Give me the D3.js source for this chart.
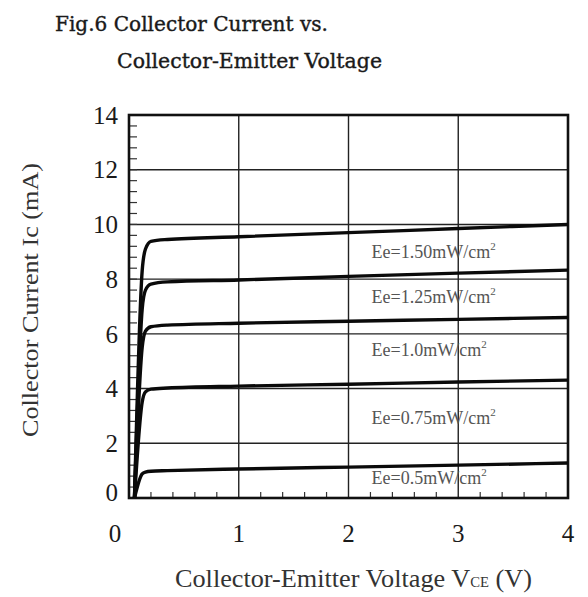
<!DOCTYPE html>
<html>
<head>
<meta charset="utf-8">
<script src="https://cdn.jsdelivr.net/npm/d3@7"></script>
<style>
  body { margin: 0; background: #fff; }
  svg { display: block; }
</style>
</head>
<body>
<svg id="canvas" width="588" height="597"></svg>
<script>
// irradiance levels (mW/cm2) and their curves
let levels = ['1.50', '1.25', '1.0', '0.75', '0.5']
let vce = [0.05, 0.12, 0.15, 0.2, 0.35, 1, 2, 3, 4]
let ic150 = [0, 8.3, 9.1, 9.38, 9.45, 9.55, 9.7, 9.85, 10.0]
let ic125 = [0, 6.9, 7.6, 7.82, 7.9, 7.97, 8.1, 8.22, 8.33]
let ic100 = [0, 5.5, 6.1, 6.26, 6.32, 6.39, 6.46, 6.53, 6.6]
let ic075 = [0, 3.5, 3.88, 3.98, 4.02, 4.09, 4.16, 4.24, 4.31]
let ic050 = [0, 0.88, 0.95, 0.98, 1.0, 1.06, 1.13, 1.2, 1.28]
let series = [ic150, ic125, ic100, ic075, ic050]
// label anchors in data units (V, mA)
let labelV = [2.21, 2.21, 2.21, 2.21, 2.21]
let labelI = [8.99, 7.35, 5.41, 2.92, 0.73]

let xTicks = [0, 1, 2, 3, 4]
let yTicks = [0, 2, 4, 6, 8, 10, 12, 14]

let canvas = d3.select('#canvas')

let x = d3.scaleLinear().domain([0, 4]).range([129, 568])
let y = d3.scaleLinear().domain([0, 14]).range([498, 115])

// title
canvas.append('text')
    .text('Fig.6 Collector Current vs.')
    .attr('x', 55).attr('y', 31)
    .attr('textLength', 273).attr('lengthAdjust', 'spacingAndGlyphs')
    .style('font-family', '"DejaVu Serif", serif').style('font-size', '21px')
    .style('fill', '#1a1a1a').style('stroke', '#1a1a1a').style('stroke-width', 0.4)
canvas.append('text')
    .text('Collector-Emitter Voltage')
    .attr('x', 117).attr('y', 68)
    .attr('textLength', 265).attr('lengthAdjust', 'spacingAndGlyphs')
    .style('font-family', '"DejaVu Serif", serif').style('font-size', '21px')
    .style('fill', '#1a1a1a').style('stroke', '#1a1a1a').style('stroke-width', 0.4)

// grid
canvas.append('g').selectAll('line')
    .data(yTicks.filter(d => d > 0 && d < 14))
    .enter().append('line')
    .attr('x1', x(0)).attr('x2', x(4))
    .attr('y1', d => y(d)).attr('y2', d => y(d))
    .attr('stroke', '#222').attr('stroke-width', 1.4)
canvas.append('g').selectAll('line')
    .data(xTicks.filter(d => d > 0 && d < 4))
    .enter().append('line')
    .attr('y1', y(0)).attr('y2', y(14))
    .attr('x1', d => x(d)).attr('x2', d => x(d))
    .attr('stroke', '#222').attr('stroke-width', 1.4)

// minor inner ticks
let yMinor = d3.range(0.4, 14, 0.4)
canvas.append('g').selectAll('line')
    .data(yMinor)
    .enter().append('line')
    .attr('x1', x(0)).attr('x2', x(0) + 8)
    .attr('y1', d => y(d)).attr('y2', d => y(d))
    .attr('stroke', '#333').attr('stroke-width', 1.2)
let xMinor = d3.range(0.2, 4, 0.2).filter(d => Math.abs(d - Math.round(d)) > 0.01)
canvas.append('g').selectAll('line')
    .data(xMinor)
    .enter().append('line')
    .attr('y1', y(0)).attr('y2', y(0) - 6)
    .attr('x1', d => x(d)).attr('x2', d => x(d))
    .attr('stroke', '#333').attr('stroke-width', 1.2)

// frame
canvas.append('rect')
    .attr('x', x(0)).attr('y', y(14))
    .attr('width', x(4) - x(0)).attr('height', y(0) - y(14))
    .attr('fill', 'none').attr('stroke', '#111').attr('stroke-width', 2.6)

// curves
let line = d3.line()
    .x((d, i) => x(vce[i]))
    .y(d => y(d))
    .curve(d3.curveMonotoneX)
canvas.append('g').selectAll('path')
    .data(series)
    .enter().append('path')
    .attr('d', d => line(d))
    .attr('fill', 'none').attr('stroke', '#0a0a0a').attr('stroke-width', 3.4)
    .attr('stroke-linejoin', 'round')

// curve labels
let lab = canvas.append('g').selectAll('text')
    .data(levels)
    .enter().append('text')
    .attr('x', (d, i) => x(labelV[i]))
    .attr('y', (d, i) => y(labelI[i]))
    .attr('dy', '0.35em')
    .style('font-family', '"Liberation Serif", serif').style('font-size', '18px')
    .style('fill', '#555')
lab.append('tspan').text(d => 'Ee=' + d + 'mW/cm')
lab.append('tspan').text('2')
    .attr('dy', '-0.75em').style('font-size', '11px')

// tick labels
canvas.append('g').selectAll('text')
    .data(yTicks)
    .enter().append('text')
    .text(d => d)
    .attr('x', 118)
    .attr('y', d => y(d) - (d === 0 ? 6 : 0))
    .attr('dy', '0.35em')
    .attr('text-anchor', 'end')
    .style('font-family', '"Liberation Serif", serif').style('font-size', '25px')
    .style('fill', '#1a1a1a')
canvas.append('g').selectAll('text')
    .data(xTicks)
    .enter().append('text')
    .text(d => d)
    .attr('x', d => x(d) - (d === 0 ? 14 : 0))
    .attr('y', 533)
    .attr('dy', '0.35em')
    .attr('text-anchor', 'middle')
    .style('font-family', '"Liberation Serif", serif').style('font-size', '25px')
    .style('fill', '#1a1a1a')

// axis titles
let xt = canvas.append('text')
    .attr('x', 175).attr('y', 587)
    .attr('textLength', 357).attr('lengthAdjust', 'spacingAndGlyphs')
    .style('font-family', '"Liberation Serif", serif').style('font-size', '25px')
    .style('fill', '#333')
xt.append('tspan').text('Collector-Emitter Voltage V')
xt.append('tspan').text('CE').style('font-size', '14px')
xt.append('tspan').text(' (V)')

canvas.append('text')
    .text('Collector Current Ic (mA)')
    .attr('transform', 'translate(38,300) rotate(-90)')
    .attr('text-anchor', 'middle')
    .attr('textLength', 274).attr('lengthAdjust', 'spacingAndGlyphs')
    .style('font-family', '"Liberation Serif", serif').style('font-size', '24px')
    .style('fill', '#333')
</script>
</body>
</html>
